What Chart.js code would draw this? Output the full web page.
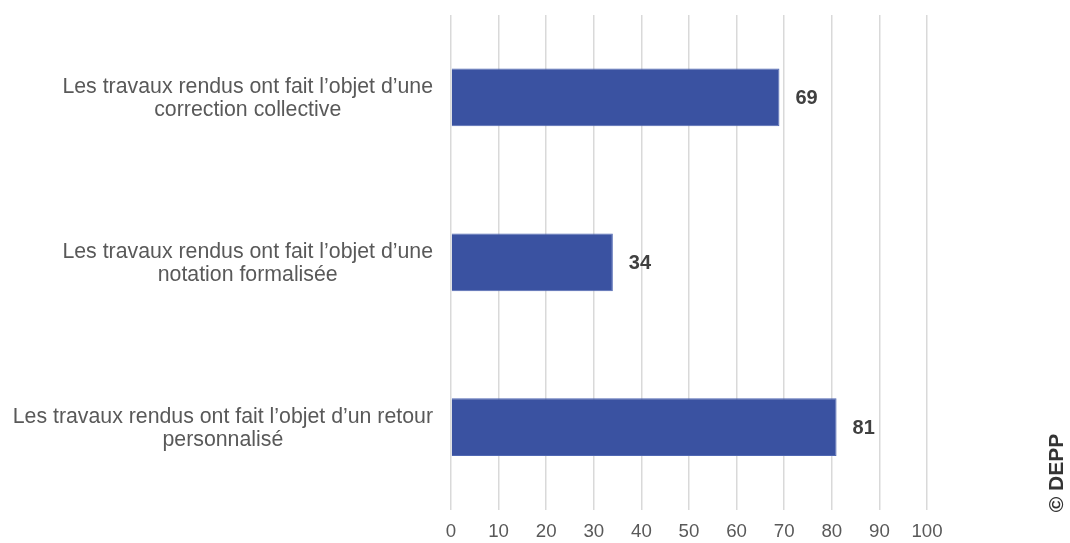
<!DOCTYPE html>
<html>
<head>
<meta charset="utf-8">
<script src="https://cdn.jsdelivr.net/npm/chart.js@4"></script>
<style>
  html, body { margin: 0; padding: 0; background: #fff; }
  #wrap { width: 1070px; height: 543px; position: relative; }
</style>
</head>
<body>
<div id="wrap"><canvas id="myChart"></canvas></div>
<script>
// données
var categories = [
  ["Les travaux rendus ont fait l’objet d’une", "correction collective"],
  ["Les travaux rendus ont fait l’objet d’une", "notation formalisée"],
  ["Les travaux rendus ont fait l’objet d’un retour", "personnalisé"]
];
var values = [69, 34, 81];
var xMin = 0, xMax = 100, xStep = 10;
var credit = "© DEPP";

var barColor = "#3a52a1";
var textColor = "#595959";
var fontFamily = "'Liberation Sans', Arial, sans-serif";

// étiquettes des catégories : bloc aligné à droite, lignes centrées
var catLabels = {
  id: "catLabels",
  afterDraw(chart) {
    var ctx = chart.ctx;
    var y = chart.scales.y;
    ctx.save();
    ctx.font = "21.3px " + fontFamily;
    ctx.fillStyle = textColor;
    ctx.textAlign = "center";
    ctx.textBaseline = "middle";
    var right = chart.chartArea.left - 18;
    categories.forEach(function(lines, i) {
      var w = Math.max.apply(null, lines.map(function(l) { return ctx.measureText(l).width; }));
      var cx = right - w / 2;
      var cy = y.getPixelForValue(i);
      var lh = 23;
      lines.forEach(function(l, k) {
        ctx.fillText(l, cx, cy + 1 + (k - (lines.length - 1) / 2) * lh);
      });
    });
    // copyright vertical
    ctx.font = "bold 21px " + fontFamily;
    ctx.fillStyle = "#333333";
    ctx.translate(1057, 473);
    ctx.rotate(-Math.PI / 2);
    ctx.fillText(credit, 0, 0);
    ctx.restore();
  }
};

// valeurs au bout des barres
var valueLabels = {
  id: "valueLabels",
  afterDatasetsDraw(chart) {
    var ctx = chart.ctx;
    var meta = chart.getDatasetMeta(0);
    ctx.save();
    ctx.font = "bold 20px " + fontFamily;
    ctx.fillStyle = "#404040";
    ctx.textAlign = "left";
    ctx.textBaseline = "middle";
    meta.data.forEach(function(bar, i) {
      ctx.fillText(values[i], bar.x + 16, bar.y + 1);
    });
    ctx.restore();
  }
};

new Chart("myChart", {
  type: "bar",
  data: {
    labels: categories,
    datasets: [{
      data: values,
      backgroundColor: barColor,
      borderColor: "#5068b3",
      borderWidth: 1,
      barPercentage: 0.35,
      categoryPercentage: 1
    }]
  },
  options: {
    indexAxis: "y",
    responsive: true,
    maintainAspectRatio: false,
    animation: false,
    layout: { padding: { left: 443, right: 143, top: 15, bottom: -11 } },
    plugins: {
      legend: { display: false },
      tooltip: { enabled: false }
    },
    scales: {
      x: {
        min: xMin,
        max: xMax,
        ticks: {
          stepSize: xStep,
          color: textColor,
          font: { family: fontFamily, size: 18.7 },
          padding: 11
        },
        grid: { color: "#d9d9d9", lineWidth: 1.5, drawTicks: false },
        border: { display: false }
      },
      y: {
        ticks: { display: false },
        grid: { display: false },
        border: { display: false }
      }
    }
  },
  plugins: [catLabels, valueLabels]
});
</script>
</body>
</html>
